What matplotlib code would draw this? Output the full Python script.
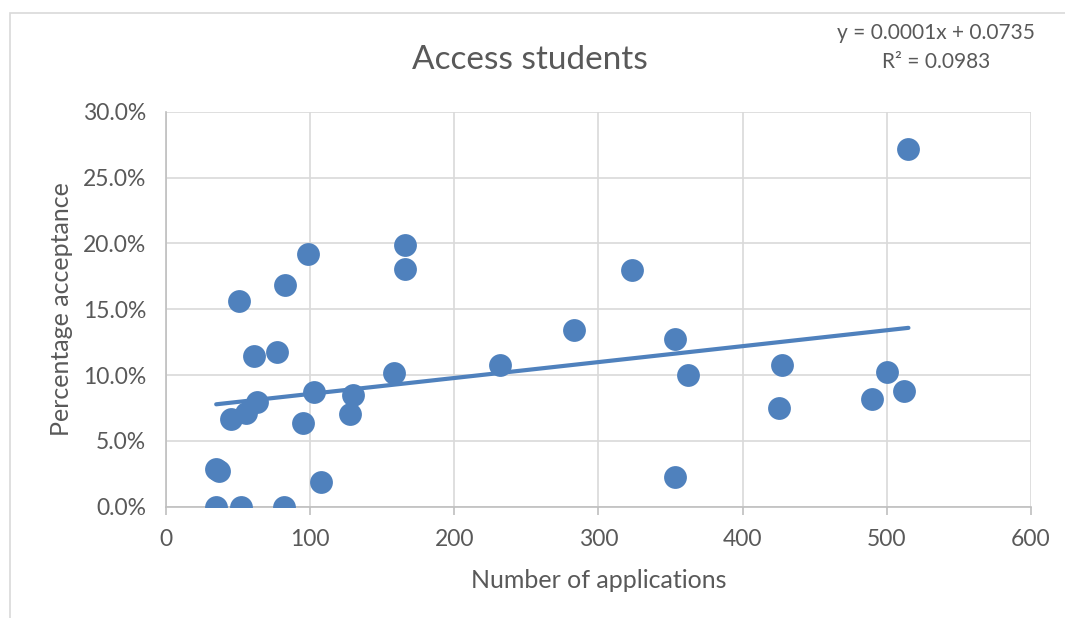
import numpy as np
from matplotlib import pyplot as plt
from matplotlib.patches import Rectangle
from matplotlib.ticker import PercentFormatter

# applications per course vs. share of access students accepted (%)
applications = [35, 52, 82, 35, 37, 108, 95, 45, 56, 63, 103, 130, 128, 158,
                61, 77, 51, 83, 99, 166, 166, 232, 283, 323, 353, 362, 353,
                427, 425, 490, 500, 512, 515]
acceptance = [0.0, 0.0, 0.0, 2.87, 2.72, 1.87, 6.32, 6.67, 7.12, 7.97, 8.72,
              8.52, 7.02, 10.12, 11.47, 11.72, 15.62, 16.87, 19.22, 19.87,
              18.07, 10.77, 13.42, 17.97, 12.77, 9.97, 2.27, 10.77, 7.52,
              8.17, 10.22, 8.77, 27.17]
x_ticks = [0, 100, 200, 300, 400, 500, 600]
y_ticks = [0, 0.05, 0.10, 0.15, 0.20, 0.25, 0.30]

blue = '#4F81BD'
grey_text = '#595959'
grid_col = '#D9D9D9'

plt.rcParams['font.family'] = ['Lato', 'DejaVu Sans']

x = np.array(applications, dtype=float)
y = np.array(acceptance) / 100.0

# linear trendline, as Excel does it
slope, intercept = np.polyfit(x, y, 1)
pred = slope * x + intercept
r2 = 1 - ((y - pred) ** 2).sum() / ((y - y.mean()) ** 2).sum()

fig = plt.figure(figsize=(10.65, 6.18), dpi=100)
fig.patches.append(Rectangle((10 / 1065, -0.1), 1.2, 1 - 13 / 618 + 0.1,
                             transform=fig.transFigure, fill=False,
                             edgecolor=grid_col, lw=1.2))
ax = fig.add_axes([0.1556, 0.1801, 0.8125, 0.6392])

ax.scatter(x, y, s=270, color=blue, zorder=3, linewidths=0)
xs = np.array([x.min(), x.max()])
ax.plot(xs, slope * xs + intercept, color=blue, lw=3, solid_capstyle='round', zorder=2)

ax.set_xlim(0, 600)
ax.set_ylim(0, 0.30)
ax.set_xticks(x_ticks)
ax.set_yticks(y_ticks)
ax.yaxis.set_major_formatter(PercentFormatter(1.0, decimals=1))
ax.grid(True, color=grid_col, lw=1.2)
ax.set_axisbelow(True)
for side in ['top', 'right']:
    ax.spines[side].set_visible(False)
for side in ['left', 'bottom']:
    ax.spines[side].set_color('#BFBFBF')
    ax.spines[side].set_linewidth(1.2)
ax.tick_params(axis='x', length=6, color='#BFBFBF', width=1.2, colors=grey_text,
               labelsize=16.5, pad=10)
ax.tick_params(axis='y', length=0, colors=grey_text, labelsize=16.5, pad=14)

ax.set_xlabel('Number of applications', color=grey_text, fontsize=18, labelpad=14)
ax.set_ylabel('Percentage acceptance', color=grey_text, fontsize=18, labelpad=7)

fig.text(530 / 1065, 1 - 60 / 618, 'Access students', color=grey_text,
         fontsize=24, ha='center', va='center')
fig.text(936 / 1065, 1 - 33 / 618, f'y = {slope:.4f}x + {intercept:.4f}',
         color=grey_text, fontsize=15, ha='center', va='center')
fig.text(936 / 1065, 1 - 62 / 618, f'R² = {r2:.4f}',
         color=grey_text, fontsize=15, ha='center', va='center')

fig.savefig('out.png', dpi=100)
